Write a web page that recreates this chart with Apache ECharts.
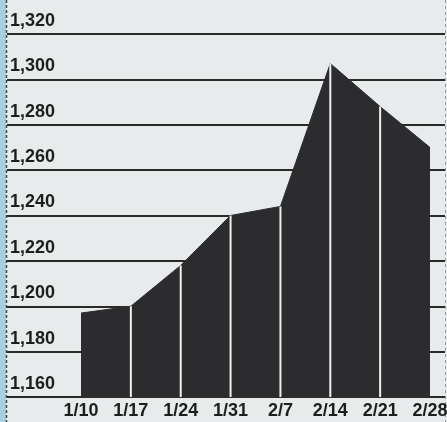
<!DOCTYPE html>
<html>
<head>
<meta charset="utf-8">
<script src="https://cdn.jsdelivr.net/npm/echarts@6/dist/echarts.min.js"></script>
<style>
html,body{margin:0;padding:0;background:#e7ebeb;}
#c{width:447px;height:422px;}
</style>
</head>
<body>
<div id="c"></div>
<script>
const categories = ['1/10','1/17','1/24','1/31','2/7','2/14','2/21','2/28'];
const values = [1197, 1200, 1218, 1240, 1244, 1307, 1288, 1270];
const yMin = 1160, yMax = 1320, yStep = 20;

const FONT = '"Liberation Sans", Arial, sans-serif';
const chart = echarts.init(document.getElementById('c'), null, {renderer:'canvas'});

const sepData = values.map((v, i) => (i === 0 || i === values.length - 1)
  ? {value: v, itemStyle: {color: 'rgba(0,0,0,0)'}} : v);

chart.setOption({
  backgroundColor: '#e7ebeb',
  animation: false,
  grid: [
    {left: 7, right: 2, top: 34, bottom: 25, outerBoundsMode: 'none', containLabel: false},
    {left: 81, right: 17, top: 34, bottom: 25, outerBoundsMode: 'none', containLabel: false}
  ],
  xAxis: [
    {gridIndex: 0, type: 'value', min: 0, max: 1, show: false},
    {gridIndex: 1, type: 'category', data: categories, boundaryGap: false,
     axisLine: {show: false}, axisTick: {show: false}, splitLine: {show: false},
     axisLabel: {color: '#1e1e1e', fontFamily: FONT, fontWeight: 'bold', fontSize: 18, margin: 5, interval: 0,
                 hideOverlap: false}}
  ],
  yAxis: [
    {gridIndex: 0, type: 'value', min: yMin, max: yMax, interval: yStep,
     axisLine: {show: false}, axisTick: {show: false},
     splitLine: {show: true, lineStyle: {color: '#2a2a2a', width: 2}},
     axisLabel: {inside: true, margin: 3, color: '#1e1e1e', fontFamily: FONT, fontWeight: 'bold', fontSize: 18,
                 verticalAlign: 'bottom', padding: [0,0,4,0],
                 formatter: v => v.toLocaleString('en-US')}},
    {gridIndex: 1, type: 'value', min: yMin, max: yMax, interval: yStep, show: false}
  ],
  series: [
    {type: 'line', xAxisIndex: 1, yAxisIndex: 1, data: values, symbol: 'none',
     lineStyle: {color: '#2c2c2e', width: 1}, areaStyle: {color: '#2c2c2e', opacity: 1}, z: 3},
    {type: 'bar', xAxisIndex: 1, yAxisIndex: 1, data: sepData, barWidth: 2,
     itemStyle: {color: '#eef0f0'}, z: 4, silent: true}
  ],
  graphic: [
    {type: 'rect', left: 0, top: 0, shape: {width: 6, height: 422}, style: {fill: '#a9cfdc'}, silent: true},
    {type: 'line', shape: {x1: 6.5, y1: 0, x2: 6.5, y2: 422}, style: {stroke: '#3a4a50', lineWidth: 1.5, lineDash: [3,2]}, silent: true},
    {type: 'line', shape: {x1: 445.5, y1: 0, x2: 445.5, y2: 422}, style: {stroke: '#8a9a9e', lineWidth: 1, lineDash: [3,3]}, silent: true}
  ]
});
</script>
</body>
</html>
